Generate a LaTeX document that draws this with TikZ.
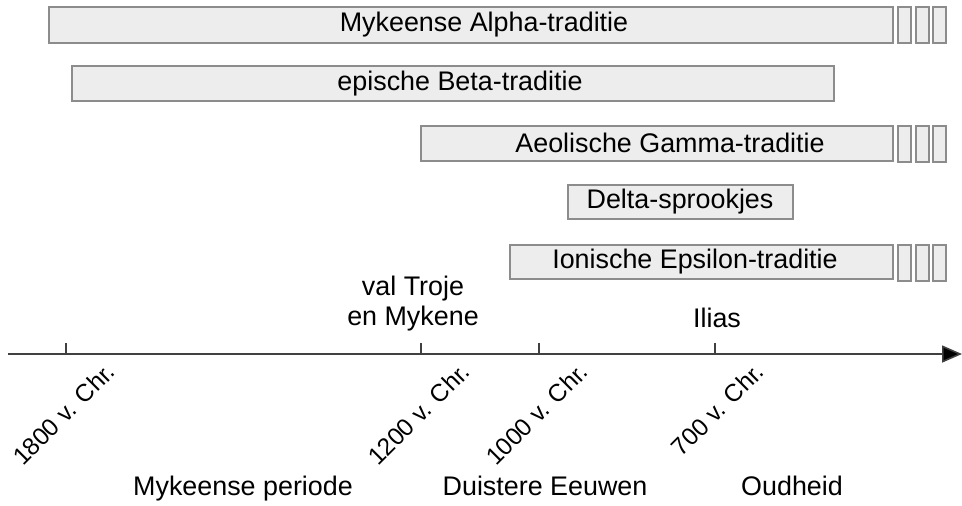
\documentclass[tikz,border=0pt]{standalone}
\usepackage{fontspec}
\setmainfont{Liberation Sans}
\usetikzlibrary{arrows.meta}
\tikzset{>={Triangle[length=4mm,width=3.4mm,fill=black]}}
\tikzset{
  bar/.style={draw=black!45, fill=black!7, line width=.9pt},
  label/.style={font=\fontsize{15.3}{18}\selectfont},
  datum/.style={font=\fontsize{13.9}{16}\selectfont, rotate=45, anchor=base east},
}

\begin{document}
\begin{tikzpicture}[x=0.02cm, y=-0.02cm]
      \useasboundingbox (0,0) rectangle (962,505);
      % traditions
      \draw[bar] (49,7) rectangle (893,43);
      \draw[bar] (72,66) rectangle (834,101);
      \draw[bar] (421,126) rectangle (893,161);
      \draw[bar] (568,185) rectangle (793,219);
      \draw[bar] (510,245) rectangle (893,279);
      \node[label] (alpha) at (484,25) {Mykeense Alpha-traditie};
      \node[label] (beta) at (460,84) {epische Beta-traditie};
      \node[label] (gamma) at (670,143) {Aeolische Gamma-traditie};
      \node[label] (delta) at (680,202) {Delta-sprookjes};
      \node[label] (epsilon) at (695,262) {Ionische Epsilon-traditie};
      % continuation
      \foreach \y in {7,126,245} {
        \draw[bar] (898,\y) rectangle (911,\y+36);
        \draw[bar] (916,\y) rectangle (929,\y+36);
        \draw[bar] (933,\y) rectangle (946,\y+36);
      }
      % time axis
      \coordinate (start) at (8,354);
      \coordinate (end) at (962,354);
      \draw[->, black!75, line width=.9pt] (start) -- (end);
      \foreach \x/\n/\t in {66/t1800/1800, 421/t1200/1200, 539/t1000/1000, 715/t700/700} {
        \coordinate (\n) at (\x,354);
        \draw[black!75, line width=.9pt] (\n) -- ++(0,-11);
        \node[datum] at ([shift={(55,15)}]\n) {\t{} v. Chr.};
      }
      % events
      \node[label, align=center, anchor=base] (troje) at (413,325) {val Troje\\[-1pt]en Mykene};
      \node[label, anchor=base] (ilias) at (717,327) {Ilias};
      % periods
      \node[label, anchor=base] (myk) at (243,495) {Mykeense periode};
      \node[label, anchor=base] (duister) at (545,495) {Duistere Eeuwen};
      \node[label, anchor=base] (oud) at (792,495) {Oudheid};
\end{tikzpicture}
\end{document}
